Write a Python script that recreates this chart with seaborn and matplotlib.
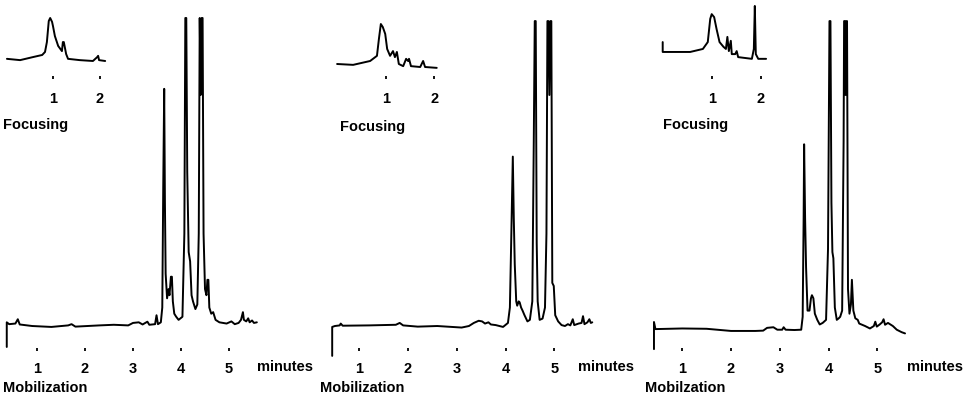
import numpy as np
import pandas as pd
import matplotlib
matplotlib.use('Agg')
import matplotlib.pyplot as plt
import seaborn as sns

# ---- data (time in minutes, relative absorbance) ----
# panel 1, mobilization trace
p1_time = [0.37, 0.37, 0.42, 0.55, 0.60, 0.64, 0.90, 1.30, 1.65, 1.72, 1.80, 2.30, 2.60, 2.90,
           3.00, 3.12, 3.20, 3.30, 3.34, 3.46, 3.49, 3.52, 3.58, 3.61, 3.63, 3.65, 3.665, 3.68,
           3.71, 3.74, 3.76, 3.79, 3.81, 3.83, 3.86, 3.90, 3.95, 4.03, 4.07, 4.09, 4.11, 4.13,
           4.16, 4.19, 4.22, 4.25, 4.30, 4.34, 4.37, 4.39, 4.41, 4.43, 4.45, 4.47, 4.50, 4.53,
           4.55, 4.57, 4.59, 4.63, 4.67, 4.72, 4.80, 4.95, 5.05, 5.12, 5.20, 5.25, 5.29, 5.31,
           5.36, 5.40, 5.43, 5.48, 5.52, 5.58]
p1_signal = [-0.068, 0.012, 0.006, 0.008, 0.022, 0.005, 0.0, -0.003, 0.002, 0.006, -0.002, 0.002, 0.004, 0.002,
             0.010, 0.012, 0.005, 0.014, 0.004, 0.006, 0.035, 0.006, 0.012, 0.06, 0.45, 0.77, 0.40, 0.17,
             0.09, 0.12, 0.10, 0.16, 0.16, 0.08, 0.04, 0.03, 0.02, 0.03, 0.30, 1.0, 1.0, 0.50,
             0.24, 0.21, 0.10, 0.08, 0.055, 0.07, 0.30, 1.0, 0.75, 1.0, 1.0, 0.30, 0.12, 0.10,
             0.15, 0.15, 0.06, 0.04, 0.045, 0.02, 0.012, 0.008, 0.015, 0.006, 0.010, 0.020, 0.045, 0.020,
             0.015, 0.025, 0.012, 0.018, 0.010, 0.012]

# panel 2, mobilization trace
p2_time = [0.445, 0.445, 0.50, 0.60, 0.62, 0.66, 1.20, 1.75, 1.83, 1.90, 2.20, 2.60, 2.90, 3.10,
           3.25, 3.35, 3.45, 3.52, 3.58, 3.65, 3.70, 3.80, 3.95, 4.05, 4.09, 4.12, 4.15, 4.17,
           4.19, 4.22, 4.24, 4.27, 4.29, 4.32, 4.35, 4.39, 4.45, 4.50, 4.55, 4.58, 4.60, 4.62,
           4.64, 4.66, 4.70, 4.76, 4.81, 4.84, 4.86, 4.88, 4.90, 4.92, 4.94, 4.96, 4.99, 5.02,
           5.08, 5.15, 5.22, 5.28, 5.33, 5.38, 5.41, 5.50, 5.56, 5.59, 5.62, 5.68, 5.72, 5.75, 5.78]
p2_signal = [-0.097, -0.003, 0.0, 0.002, 0.008, 0.001, 0.002, 0.004, 0.010, 0.002, -0.002, 0.0, -0.003, -0.005,
             0.0, 0.010, 0.017, 0.015, 0.008, 0.012, 0.005, 0.003, -0.003, 0.010, 0.06, 0.30, 0.55, 0.35,
             0.20, 0.08, 0.066, 0.08, 0.077, 0.06, 0.05, 0.035, 0.015, 0.02, 0.08, 0.60, 0.99, 0.99,
             0.27, 0.08, 0.02, 0.024, 0.06, 0.30, 0.99, 0.99, 0.75, 0.99, 0.99, 0.14, 0.13, 0.035,
             0.015, 0.003, 0.0, 0.006, 0.002, 0.022, 0.003, 0.008, 0.010, 0.032, 0.006, 0.012, 0.022, 0.010, 0.012]

# panel 3, mobilization trace
p3_time = [0.42, 0.42, 0.45, 1.00, 1.50, 2.00, 2.50, 2.66, 2.74, 2.87, 2.95, 3.05, 3.08, 3.12,
           3.30, 3.44, 3.47, 3.49, 3.50, 3.52, 3.54, 3.57, 3.61, 3.64, 3.66, 3.69, 3.72, 3.77,
           3.82, 3.88, 3.95, 3.99, 4.02, 4.04, 4.06, 4.08, 4.10, 4.13, 4.17, 4.21, 4.24, 4.28,
           4.31, 4.32, 4.34, 4.35, 4.37, 4.38, 4.40, 4.43, 4.46, 4.48, 4.51, 4.55, 4.60, 4.63,
           4.75, 4.85, 4.93, 4.96, 4.99, 5.05, 5.10, 5.13, 5.16, 5.22, 5.26, 5.32, 5.40, 5.50, 5.57]
p3_signal = [-0.075, 0.013, -0.010, -0.008, -0.009, -0.016, -0.016, -0.015, -0.006, -0.004, -0.012, -0.012, -0.004, -0.012,
             -0.013, -0.012, 0.03, 0.35, 0.59, 0.35, 0.19, 0.05, 0.05, 0.09, 0.10, 0.09, 0.04, 0.02,
             0.005, 0.010, 0.020, 0.25, 0.99, 0.99, 0.40, 0.24, 0.22, 0.06, 0.02, 0.025, 0.03, 0.05,
             0.60, 0.99, 0.99, 0.75, 0.99, 0.99, 0.12, 0.04, 0.07, 0.15, 0.05, 0.025, 0.02, 0.008,
             0.0, -0.008, 0.0, 0.014, -0.002, 0.005, 0.012, 0.022, 0.004, 0.010, 0.006, 0.0, -0.012, -0.020, -0.024]

# focusing insets
f1_time = [0.02, 0.30, 0.57, 0.77, 0.83, 0.87, 0.91, 0.94, 0.98, 1.00, 1.04, 1.11, 1.19, 1.21,
           1.23, 1.28, 1.32, 1.57, 1.85, 1.94, 1.96, 1.98, 2.11]
f1_signal = [0.05, 0.02, 0.09, 0.14, 0.21, 0.44, 0.93, 1.00, 0.91, 0.81, 0.58, 0.35, 0.23, 0.44,
             0.44, 0.16, 0.05, 0.02, 0.0, 0.09, 0.12, 0.02, 0.0]

f2_time = [0.0, 0.33, 0.68, 0.82, 0.86, 0.90, 0.94, 0.99, 1.03, 1.09, 1.15, 1.19, 1.23, 1.27,
           1.36, 1.42, 1.46, 1.48, 1.52, 1.71, 1.77, 1.81, 2.05]
f2_signal = [-0.07, -0.09, 0.0, 0.12, 0.51, 0.86, 0.79, 0.63, 0.28, 0.12, 0.23, 0.09, 0.21, -0.07,
             -0.12, 0.05, 0.0, 0.05, -0.12, -0.14, 0.0, -0.14, -0.16]

f3_time = [0.0, 0.0, 0.56, 0.82, 0.92, 0.97, 1.00, 1.05, 1.10, 1.16, 1.24, 1.29, 1.32, 1.35,
           1.39, 1.41, 1.48, 1.51, 1.54, 1.82, 1.86, 1.88, 1.90, 1.95, 2.11]
f3_signal = [0.44, 0.21, 0.21, 0.28, 0.44, 0.98, 1.09, 1.02, 0.74, 0.44, 0.33, 0.28, 0.56, 0.23,
             0.47, 0.16, 0.16, 0.23, 0.09, 0.05, 0.28, 1.28, 0.16, 0.05, 0.05]

main_ticks = [1, 2, 3, 4, 5]
inset_ticks = [1, 2]
inset_label = 'Focusing'
main_labels = ['Mobilization', 'Mobilization', 'Mobilzation']
unit_label = 'minutes'

W, H = 973, 410

sns.set_theme(style='white')
plt.rcParams['font.family'] = ['Liberation Sans', 'DejaVu Sans']

fig = plt.figure(figsize=(W / 100, H / 100), dpi=100)


def px_axes(left, right, top, bottom, t0, per_min, ylim):
    # axes placed in pixel units; x limits follow the minute scale of the scan
    ax = fig.add_axes([left / W, 1 - bottom / H, (right - left) / W, (bottom - top) / H])
    ax.set_xlim((left - t0) / per_min, (right - t0) / per_min)
    ax.set_ylim(*ylim)
    for s in ax.spines.values():
        s.set_visible(False)
    ax.set_yticks([])
    return ax


def draw(ax, t, y, ticks, pad):
    df = pd.DataFrame({'time': t, 'signal': y})
    sns.lineplot(data=df, x='time', y='signal', ax=ax, sort=False, estimator=None,
                 color='black', lw=1.4, clip_on=False)
    ax.set_xticks(ticks)
    ax.set_xticklabels([str(v) for v in ticks], fontsize=10.5, fontweight='bold')
    ax.tick_params(axis='x', direction='in', length=2, width=1.3, color='black',
                   labelcolor='black', pad=pad, bottom=True)
    ax.set_xlabel('')
    ax.set_ylabel('')


main_ylim = (-0.0795, 1.0)
inset_ylim = (-0.419, 1.442)

mains = [
    (p1_time, p1_signal, 0, 262, -11.0, 48.0),
    (p2_time, p2_signal, 325, 595, 310.5, 48.75),
    (p3_time, p3_signal, 645, 910, 633.5, 48.75),
]
insets = [
    (f1_time, f1_signal, 0, 110, 6.0, 47.0),
    (f2_time, f2_signal, 330, 440, 337.1, 48.6),
    (f3_time, f3_signal, 655, 770, 662.7, 49.0),
]

for t, y, l, r, t0, k in mains:
    ax = px_axes(l, r, 19, 351.5, t0, k, main_ylim)
    draw(ax, t, y, main_ticks, 7.5)

for t, y, l, r, t0, k in insets:
    ax = px_axes(l, r, 0, 80, t0, k, inset_ylim)
    draw(ax, t, y, inset_ticks, 8.5)

txt = dict(fontsize=10.5, fontweight='bold', va='center', ha='left', color='black')
for x, yy in [(3, 125), (340, 127), (663, 125)]:
    fig.text(x / W, 1 - yy / H, inset_label, **txt)
for x, lab in zip([3, 320, 645], main_labels):
    fig.text(x / W, 1 - 388 / H, lab, **txt)
for x in [257, 578, 907]:
    fig.text(x / W, 1 - 367 / H, unit_label, **txt)

fig.savefig('out.png', dpi=100)
